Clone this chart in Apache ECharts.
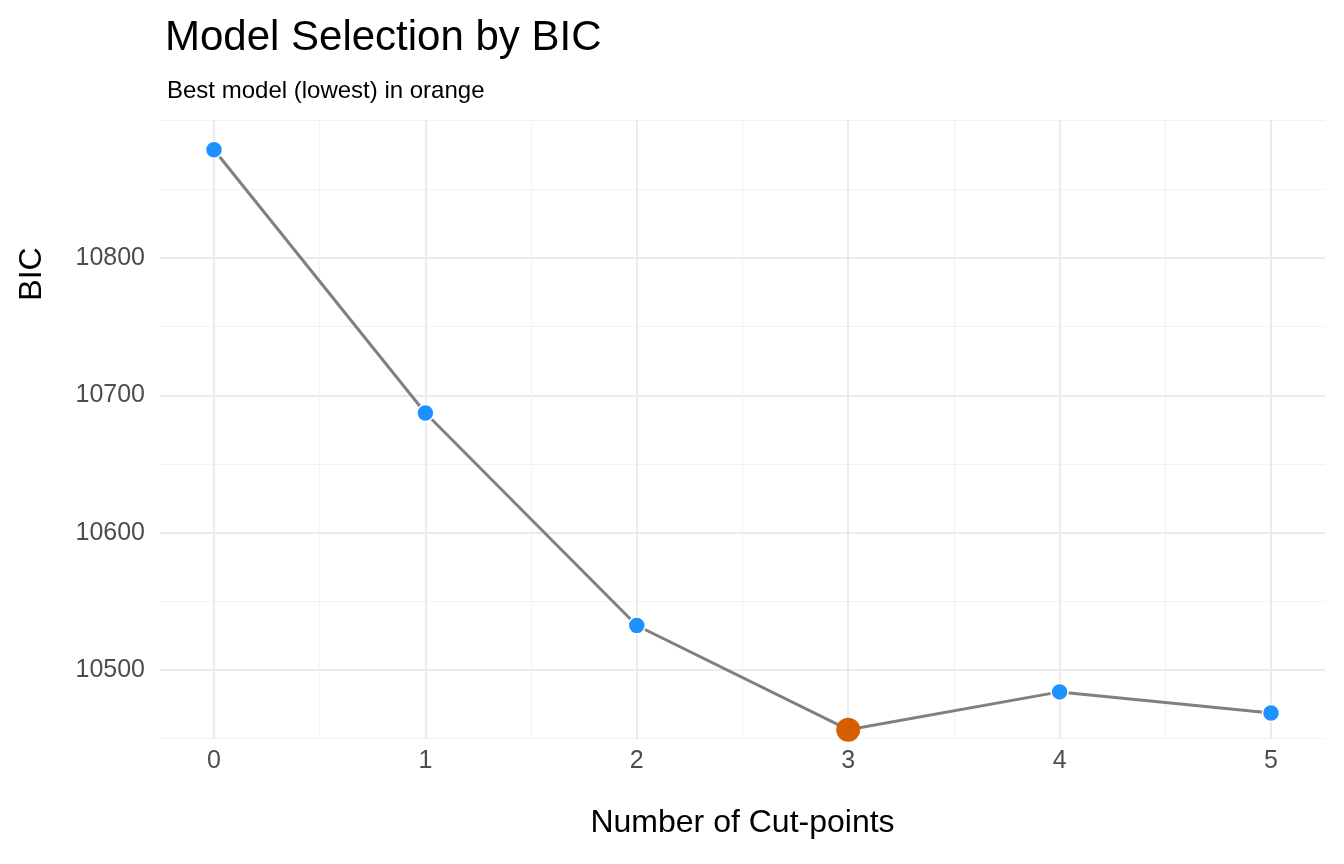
<!DOCTYPE html>
<html><head><meta charset="utf-8">
<script src="https://cdn.jsdelivr.net/npm/echarts@6/dist/echarts.min.js"></script>
<style>html,body{margin:0;background:#fff}#c{width:1344px;height:864px}</style>
</head><body><div id="c"></div>
<script>
const cutpoints = [0, 1, 2, 3, 4, 5];
const bic = [10878.6, 10687, 10532.3, 10456.5, 10484, 10468.7];
const bestIndex = 3;
const yTickLabels = [10500, 10600, 10700, 10800];

const chart = echarts.init(document.getElementById('c'));
const font = 'Liberation Sans, Arial, sans-serif';
const pts = cutpoints.map((x, i) => ({
  value: [x, bic[i]],
  symbolSize: i === bestIndex ? 24 : 17,
  itemStyle: { color: i === bestIndex ? '#d55e00' : '#1e90ff', borderColor: '#fff', borderWidth: i === bestIndex ? 0 : 1.5 }
}));
const g = { containLabel: false, outerBoundsMode: 'none' };
chart.setOption({
  animation: false,
  title: [
    { text: 'Model Selection by BIC', left: 160, top: 12, textStyle: { fontFamily: font, fontSize: 42, fontWeight: 'normal', color: '#000' } },
    { text: 'Best model (lowest) in orange', left: 162, top: 74, textStyle: { fontFamily: font, fontSize: 24, fontWeight: 'normal', color: '#000' } }
  ],
  grid: [
    Object.assign({ left: 160, right: 19, top: 120.3, bottom: 125.4 }, g),
    Object.assign({ left: 214, right: 73, top: 120.3, bottom: 125.4 }, g),
    Object.assign({ left: 160, right: 19, top: 258, bottom: 194 }, g)
  ],
  xAxis: [
    { gridIndex: 0, type: 'value', min: 0, max: 1, show: false },
    { gridIndex: 1, type: 'value', min: 0, max: 5, interval: 1,
      name: 'Number of Cut-points', nameLocation: 'middle', nameGap: 69,
      nameTextStyle: { fontFamily: font, fontSize: 32, color: '#000' },
      axisLine: { show: false }, axisTick: { show: false },
      axisLabel: { fontFamily: font, fontSize: 25, color: '#4d4d4d', margin: 10 },
      splitLine: { show: true, lineStyle: { color: '#ebebeb', width: 2 } },
      minorTick: { show: false, splitNumber: 2 },
      minorSplitLine: { show: true, lineStyle: { color: '#f2f2f2', width: 1.2 } } },
    { gridIndex: 2, type: 'value', min: 0, max: 1, show: false }
  ],
  yAxis: [
    { gridIndex: 0, type: 'value', min: 10450, max: 10900, interval: 100,
      axisLine: { show: false }, axisTick: { show: false }, axisLabel: { show: false },
      splitLine: { show: true, lineStyle: { color: '#f2f2f2', width: 1.2 } } },
    { gridIndex: 1, type: 'value', min: 10450, max: 10900, show: false, splitLine: { show: false } },
    { gridIndex: 2, type: 'value', min: yTickLabels[0], max: yTickLabels[yTickLabels.length - 1], interval: 100,
      name: 'BIC', nameLocation: 'middle', nameGap: 112, nameRotate: 90,
      nameTextStyle: { fontFamily: font, fontSize: 32, color: '#000', padding: [0, 0, 0, 380] },
      axisLine: { show: false }, axisTick: { show: false },
      axisLabel: { fontFamily: font, fontSize: 25, color: '#4d4d4d', margin: 15, formatter: v => String(v) },
      splitLine: { show: true, lineStyle: { color: '#ebebeb', width: 2 } } }
  ],
  series: [
    { type: 'line', xAxisIndex: 1, yAxisIndex: 1, data: pts, clip: false,
      lineStyle: { color: '#808080', width: 3 }, symbol: 'circle', z: 5 }
  ]
});
</script></body></html>
